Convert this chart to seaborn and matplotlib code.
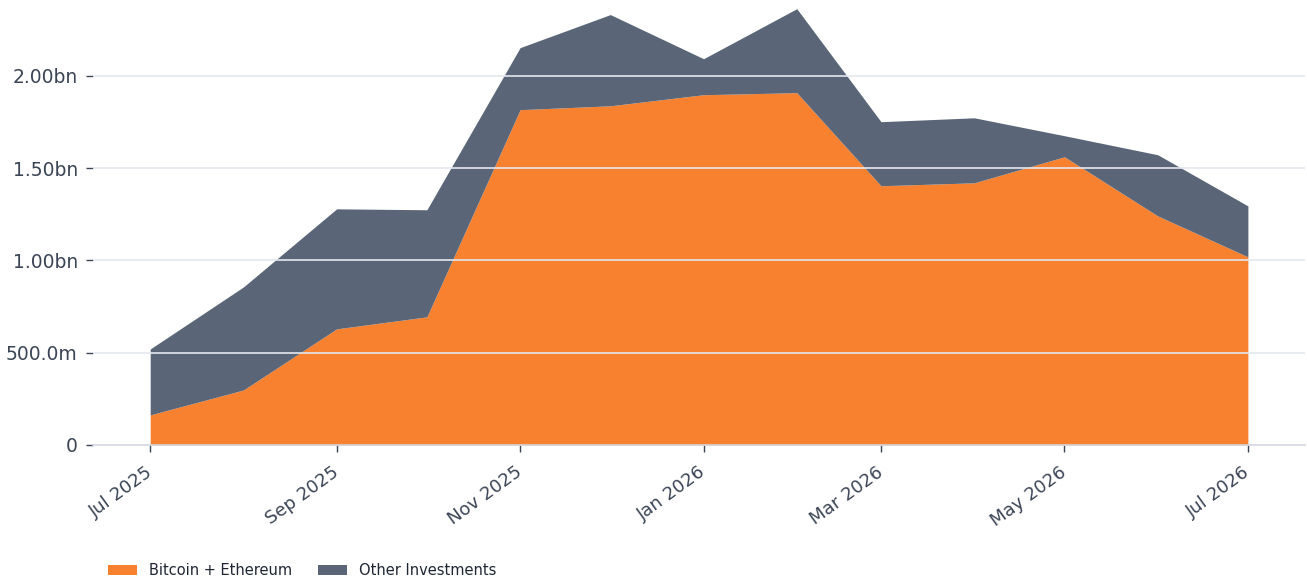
import matplotlib
matplotlib.use("Agg")
import matplotlib.pyplot as plt
import matplotlib.dates as mdates
import matplotlib.transforms as mtransforms
from matplotlib.ticker import FuncFormatter
from matplotlib.patches import Patch
import numpy as np
import pandas as pd
import seaborn as sns

# monthly values, in billions
months = pd.date_range("2025-07-01", "2026-07-01", freq="MS")
btc_eth = [0.163, 0.298, 0.629, 0.694, 1.816, 1.837, 1.897, 1.908,
           1.404, 1.420, 1.561, 1.241, 1.019]
total = [0.520, 0.856, 1.279, 1.274, 2.152, 2.331, 2.092, 2.363,
         1.751, 1.772, 1.675, 1.572, 1.295]
other = [t - b for t, b in zip(total, btc_eth)]

series_names = ["Bitcoin + Ethereum", "Other Investments"]
colors = ["#F7812F", "#5A6678"]
text_color = "#3B4556"

sns.set_theme(style="white")
plt.rcParams["font.family"] = ["DejaVu Sans"]

fig = plt.figure(figsize=(13.07, 5.82), dpi=100)
ax = fig.add_axes([0.0712, 0.2354, 0.9273, 0.7646])

ax.stackplot(months, btc_eth, other, colors=colors, linewidth=0, zorder=1)

ax.set_ylim(0, 2.41)
ax.set_xlim(pd.Timestamp("2025-06-12"), pd.Timestamp("2026-07-20"))

def fmt(v, _):
    if abs(v) < 1e-9:
        return "0"
    if v < 1:
        return f"{v * 1000:.1f}m"
    return f"{v:.2f}bn"

ax.set_yticks([0, 0.5, 1.0, 1.5, 2.0])
ax.yaxis.set_major_formatter(FuncFormatter(fmt))
for y in [0.5, 1.0, 1.5, 2.0]:
    ax.axhline(y, color="#E4E7EE", linewidth=1.2, zorder=2)

ax.xaxis.set_major_locator(mdates.MonthLocator(bymonth=[1, 3, 5, 7, 9, 11]))
ax.xaxis.set_major_formatter(mdates.DateFormatter("%b %Y"))
ax.tick_params(axis="both", colors=text_color, length=5, width=1,
               direction="out")
ax.tick_params(axis="y", pad=6, labelsize=13.5)
ax.tick_params(axis="x", pad=8, labelsize=13)
shift = mtransforms.ScaledTranslation(-0.05, 0, fig.dpi_scale_trans)
for lbl in ax.get_xticklabels():
    lbl.set_rotation(36)
    lbl.set_ha("right")
    lbl.set_rotation_mode("anchor")
    lbl.set_transform(lbl.get_transform() + shift)
ax.xaxis.set_ticks_position("bottom")
ax.yaxis.set_ticks_position("left")

sns.despine(ax=ax, left=True, top=True, right=True)
ax.spines["bottom"].set_color("#D3D7E0")
ax.spines["bottom"].set_linewidth(1.2)
ax.spines["bottom"].set_zorder(3)
ax.grid(False)

handles = [Patch(facecolor=c, edgecolor="none", label=n)
           for c, n in zip(colors, series_names)]
fig.legend(handles=handles, loc="lower left", bbox_to_anchor=(0.0725, -0.016),
           ncol=2, frameon=False, fontsize=10.5, handlelength=2.0,
           handleheight=0.7, columnspacing=1.8, labelcolor="#1F2633")

fig.savefig("out.png", dpi=100, facecolor="white")
